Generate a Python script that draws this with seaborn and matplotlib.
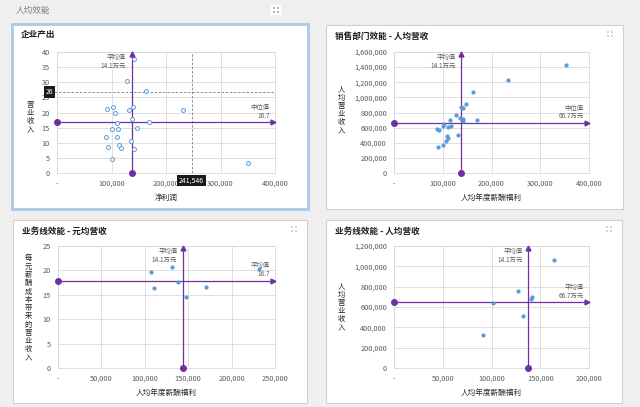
import numpy as np
import pandas as pd
import matplotlib
matplotlib.use('Agg')
import matplotlib.pyplot as plt
from matplotlib.patches import Rectangle
from matplotlib.ticker import FuncFormatter, MultipleLocator
import seaborn as sns

# chart 1: 企业产出
output_profit = [141000, 127600, 163000, 232000, 350000, 91000, 102000, 107000,
                 132000, 140000, 137000, 110000, 169000, 101000, 112000, 147000,
                 90000, 110000, 135000, 93000, 114000, 118000, 141000, 100000]
output_revenue = [37.6, 30.4, 27.1, 20.7, 3.4, 21.1, 21.9, 19.9, 20.8, 21.9, 17.9,
                  16.6, 16.7, 14.6, 14.6, 14.8, 11.8, 12.0, 10.5, 8.5, 9.3, 8.2,
                  7.8, 4.5]
output_mean_x = 137000
output_median_y = 16.7
cursor_x = 247000
cursor_y = 26.7
cursor_x_label = '241,546'
cursor_y_label = '26'

# chart 2: 销售部门效能 - 人均营收
sales_salary = [353000, 233000, 163000, 147000, 138000, 142000, 127000, 115000,
                135000, 141000, 141000, 170000, 100000, 103000, 117000, 111000,
                88000, 92000, 109000, 110000, 107000, 132000, 101000, 90000]
sales_revenue = [1433000, 1235000, 1073000, 914000, 870000, 862000, 765000,
                 695000, 721000, 708000, 686000, 695000, 624000, 646000, 620000,
                 602000, 576000, 563000, 488000, 457000, 426000, 505000, 374000,
                 343000]
sales_mean_x = 138000
sales_median_y = 659000

# chart 3: 业务线效能 - 元均营收
line_salary = [106900, 110400, 131500, 137700, 146900, 170000, 232000]
line_ratio = [19.7, 16.3, 20.7, 17.7, 14.6, 16.7, 20.3]
line_mean_x = 143800
line_mean_y = 17.9

# chart 4: 业务线效能 - 人均营收
line2_salary = [164000, 127600, 141200, 140500, 101700, 132700, 91500]
line2_revenue = [1062000, 757000, 702000, 675000, 636000, 511000, 328000]
line2_mean_x = 137400
line2_mean_y = 646000

W, H = 640, 407
PURPLE = '#7030a0'
BLUE = '#5b9bd5'
GRID = '#d9d9d9'
TEXT = '#595959'

sns.set_style('white')
plt.rcParams['font.family'] = ['Noto Sans CJK SC', 'DejaVu Sans']


def to_fig(left, top, right, bottom):
    """convert a pixel box to figure fractions"""
    return [left / W, 1 - bottom / H, (right - left) / W, (bottom - top) / H]


def fmt_x(v, pos):
    return '-' if v == 0 else f'{int(v):,}'


def fmt_y(v, pos):
    return f'{int(v):,}'


def draw_icon(fig, cx, cy, color):
    """little expand icon made of four dots"""
    for dx in (-2, 2):
        for dy in (-2, 2):
            fig.patches.append(Rectangle(((cx + dx - 0.7) / W, 1 - (cy + dy + 0.7) / H),
                                         1.4 / W, 1.4 / H, transform=fig.transFigure,
                                         facecolor=color, edgecolor='none',
                                         zorder=-1))


def draw_panel(fig, box, title, border, lw):
    left, top, right, bottom = box
    fig.patches.append(Rectangle((left / W, 1 - bottom / H),
                                 (right - left) / W, (bottom - top) / H,
                                 transform=fig.transFigure, facecolor='white',
                                 edgecolor=border, linewidth=lw, zorder=-2))
    fig.text((left + 9) / W, 1 - (top + 11) / H, title, fontsize=6.2,
             fontweight='bold', color='#1a1a1a', va='center', ha='left')
    if lw < 1.5:
        draw_icon(fig, right - 13, top + 9, '#d4d4d4')


def draw_chart(fig, box, xs, ys, xmax, xstep, ymax, ystep, mean_x, hline_y,
               right_label, filled, xlabel, ylabel, ylabel_pos):
    ax = fig.add_axes(to_fig(*box))
    df = pd.DataFrame({'x': xs, 'y': ys})
    if filled:
        sns.scatterplot(data=df, x='x', y='y', ax=ax, color=BLUE, s=7,
                        edgecolor=BLUE, linewidth=0.3, zorder=4)
    else:
        sns.scatterplot(data=df, x='x', y='y', ax=ax, facecolor='white', s=8,
                        edgecolor=BLUE, linewidth=0.7, zorder=4)
    ax.set_xlim(0, xmax)
    ax.set_ylim(0, ymax)
    ax.xaxis.set_major_locator(MultipleLocator(xstep))
    ax.yaxis.set_major_locator(MultipleLocator(ystep))
    ax.xaxis.set_major_formatter(FuncFormatter(fmt_x))
    ax.yaxis.set_major_formatter(FuncFormatter(fmt_y))
    ax.grid(True, color=GRID, linewidth=0.6)
    ax.set_axisbelow(True)
    for sp in ax.spines.values():
        sp.set_color(GRID)
        sp.set_linewidth(0.6)
    ax.tick_params(length=0, labelsize=5.3, labelcolor=TEXT, pad=5)
    ax.set_xlabel(xlabel, fontsize=5.5, color='#262626', labelpad=4)
    ax.set_ylabel('')

    # mean / median guide lines
    ax.plot([mean_x, mean_x], [0, ymax * 0.985], color=PURPLE, lw=0.9,
            zorder=3, clip_on=False)
    ax.plot([mean_x], [ymax * 0.985], marker='^', color=PURPLE, ms=3.5,
            clip_on=False, zorder=5)
    ax.plot([mean_x], [0], marker='o', color=PURPLE, ms=4, clip_on=False,
            zorder=5)
    ax.plot([0, xmax * 0.99], [hline_y, hline_y], color=PURPLE, lw=0.9,
            zorder=3, clip_on=False)
    ax.plot([xmax * 0.99], [hline_y], marker='>', color=PURPLE, ms=3.5,
            clip_on=False, zorder=5)
    ax.plot([0], [hline_y], marker='o', color=PURPLE, ms=4, clip_on=False,
            zorder=5)
    ax.annotate('平均值\n14.1万元', (mean_x, ymax), xytext=(-4, -1),
                textcoords='offset points', ha='right', va='top',
                fontsize=4.6, color=TEXT, linespacing=1.1, zorder=6)
    ax.annotate(right_label, (xmax, hline_y), xytext=(-4, 2),
                textcoords='offset points', ha='right', va='bottom',
                fontsize=4.6, color=TEXT, linespacing=1.1, zorder=6)

    fig.text(ylabel_pos[0] / W, 1 - ylabel_pos[1] / H, '\n'.join(ylabel),
             fontsize=5.3, color='#262626', ha='center', va='center',
             linespacing=1.05)
    return ax


fig = plt.figure(figsize=(W / 100, H / 100), dpi=100)
fig.patch.set_facecolor('#efefef')
fig.text(16 / W, 1 - 10 / H, '人均效能', fontsize=6.2, color='#808080',
         va='center', ha='left')
fig.patches.append(Rectangle((271 / W, 1 - 15 / H), 10 / W, 10 / H,
                             transform=fig.transFigure, facecolor='white',
                             edgecolor='none', zorder=-2))
draw_icon(fig, 276, 10, '#b8b8b8')

draw_panel(fig, (12, 24, 308, 209), '企业产出', '#a9c9ea', 2.0)
draw_panel(fig, (326, 25, 623, 209), '销售部门效能 - 人均营收', '#d0d0d0', 0.8)
draw_panel(fig, (13, 220, 307, 403), '业务线效能 - 元均营收', '#d0d0d0', 0.8)
draw_panel(fig, (326, 220, 622, 403), '业务线效能 - 人均营收', '#d0d0d0', 0.8)

ax1 = draw_chart(fig, (57, 52, 275, 173), output_profit, output_revenue,
                 400000, 100000, 40, 5, output_mean_x, output_median_y,
                 '中位值\n16.7', False, '净利润', '营业收入', (30, 117))
ax1.axvline(cursor_x, color='#7f7f7f', lw=0.6, ls=(0, (3, 2)), zorder=2)
ax1.axhline(cursor_y, color='#7f7f7f', lw=0.6, ls=(0, (3, 2)), zorder=2,
            xmin=-0.05, clip_on=False)
ax1.text(cursor_x, -1.2, cursor_x_label, ha='center', va='top', fontsize=5,
         color='white', zorder=7, clip_on=False,
         bbox=dict(boxstyle='square,pad=0.25', fc='#1a1a1a', ec='none'))
ax1.text(-0.018, cursor_y, cursor_y_label, transform=ax1.get_yaxis_transform(),
         ha='right', va='center', fontsize=5, color='white', zorder=7,
         clip_on=False,
         bbox=dict(boxstyle='square,pad=0.25', fc='#1a1a1a', ec='none'))

draw_chart(fig, (394, 52, 589, 173), sales_salary, sales_revenue,
           400000, 100000, 1600000, 200000, sales_mean_x, sales_median_y,
           '中位值\n66.7万元', True, '人均年度薪酬福利', '人均营业收入',
           (341, 110))
draw_chart(fig, (58, 246, 275, 368), line_salary, line_ratio,
           250000, 50000, 25, 5, line_mean_x, line_mean_y,
           '平均值\n16.7', True, '人均年度薪酬福利', '每元薪酬成本带来的营业收入',
           (28, 308))
draw_chart(fig, (394, 246, 589, 368), line2_salary, line2_revenue,
           200000, 50000, 1200000, 200000, line2_mean_x, line2_mean_y,
           '平均值\n66.7万元', True, '人均年度薪酬福利', '人均营业收入',
           (341, 307))

fig.savefig('out.png', dpi=100, facecolor=fig.get_facecolor())
